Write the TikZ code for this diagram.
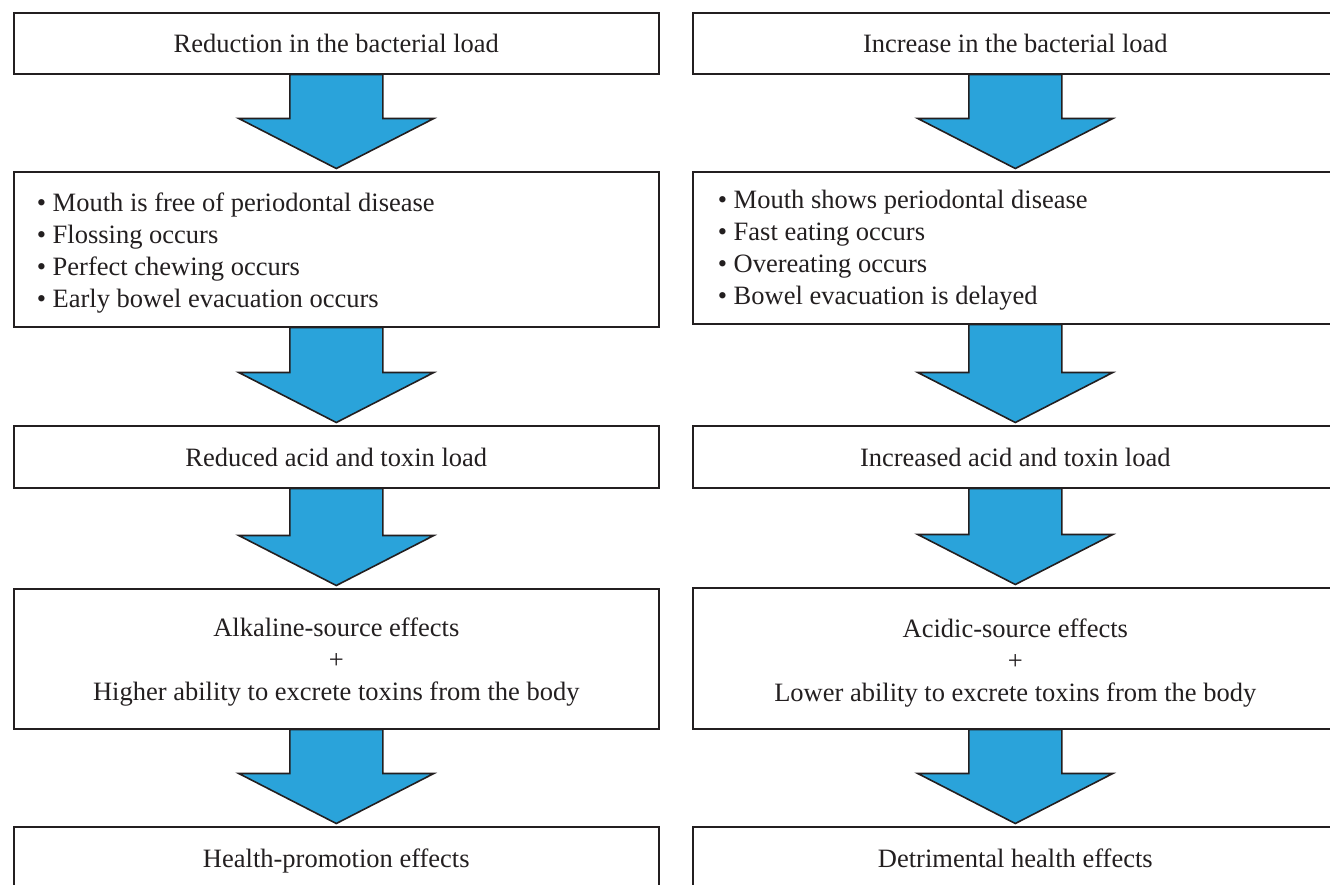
\documentclass[tikz,border=0pt]{standalone}
\usepackage{fontspec}
\setmainfont{Liberation Serif}
\usetikzlibrary{calc}
\definecolor{arrowblue}{RGB}{42,163,218}
\definecolor{ink}{RGB}{35,31,32}
\newcommand{\boxfont}{\fontsize{26.5pt}{32pt}\selectfont}
\newcommand{\blockarrow}[2]{%
  \draw[barrow] let \p1=(#1.south), \p2=(#2.north) in
    (\x1-46.5pt,\y1) -- (\x1-46.5pt,\y2+52.5pt) -- (\x1-97.5pt,\y2+52.5pt)
    -- (\x1,\y2+2.5pt) -- (\x1+97.5pt,\y2+52.5pt) -- (\x1+46.5pt,\y2+52.5pt)
    -- (\x1+46.5pt,\y1) -- cycle;}
\tikzset{
  box/.style={draw=ink, line width=1.6pt, rectangle, minimum width=645pt,
    anchor=north west, inner sep=0pt, font=\boxfont, text=ink},
  onebox/.style={box, minimum height=#1, text height=19pt, text depth=0pt},
  listbox/.style={box, minimum height=#1, align=flush left},
  multibox/.style={box, minimum height=#1, align=center},
  barrow/.style={fill=arrowblue, draw=ink, line width=1.6pt, line join=miter}
}
\begin{document}
\begin{tikzpicture}[x=1pt,y=-1pt]
\clip (0,0) rectangle (1330,884);
\fill[white] (0,0) rectangle (1330,884);
% left column
\node[onebox=61pt] (l1) at (13,12) {Reduction in the bacterial load};
\node[listbox=155pt, inner xsep=23pt, text width=599pt, text height=26pt] (l2) at (13,171) {\textbullet{} Mouth is free of periodontal disease\\
\textbullet{} Flossing occurs\\
\textbullet{} Perfect chewing occurs\\
\textbullet{} Early bowel evacuation occurs};
\node[onebox=62pt] (l3) at (13,425) {Reduced acid and toxin load};
\node[multibox=140pt, text height=90pt, text depth=6pt] (l4) at (13,588) {Alkaline-source effects\\+\\Higher ability to excrete toxins from the body};
\node[onebox=62pt] (l5) at (13,826) {Health-promotion effects};
% right column
\node[onebox=61pt] (r1) at (692,12) {Increase in the bacterial load};
\node[listbox=152pt, inner xsep=25pt, text width=595pt, text height=24pt] (r2) at (692,171) {\textbullet{} Mouth shows periodontal disease\\
\textbullet{} Fast eating occurs\\
\textbullet{} Overeating occurs\\
\textbullet{} Bowel evacuation is delayed};
\node[onebox=62pt] (r3) at (692,425) {Increased acid and toxin load};
\node[multibox=141pt, text height=92pt, text depth=6pt] (r4) at (692,587) {Acidic-source effects\\+\\Lower ability to excrete toxins from the body};
\node[onebox=62pt] (r5) at (692,826) {Detrimental health effects};
% block arrows
\blockarrow{l1}{l2}
\blockarrow{l2}{l3}
\blockarrow{l3}{l4}
\blockarrow{l4}{l5}
\blockarrow{r1}{r2}
\blockarrow{r2}{r3}
\blockarrow{r3}{r4}
\blockarrow{r4}{r5}
\end{tikzpicture}
\end{document}
